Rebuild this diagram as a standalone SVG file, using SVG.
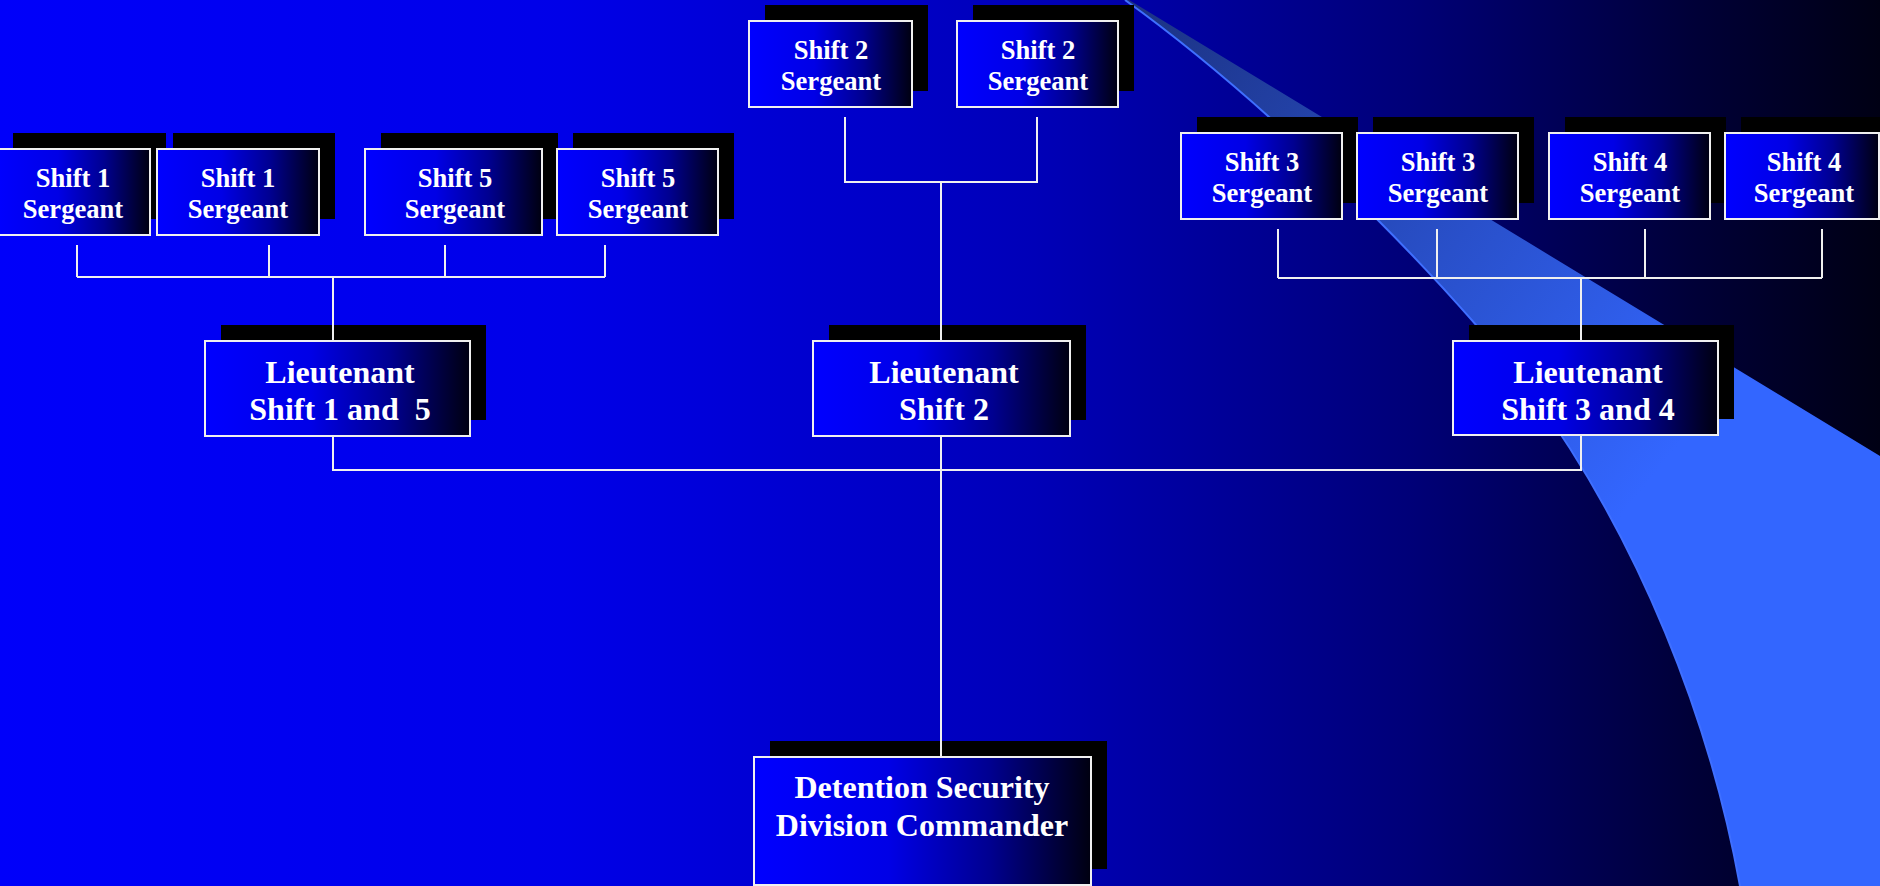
<svg xmlns="http://www.w3.org/2000/svg" width="1880" height="886" viewBox="0 0 1880 886">
<defs>
<linearGradient id="bg" x1="0" y1="0" x2="1" y2="0">
<stop offset="0" stop-color="#0000fa"/>
<stop offset="0.3" stop-color="#0000e8"/>
<stop offset="0.55" stop-color="#0000b8"/>
<stop offset="0.75" stop-color="#000078"/>
<stop offset="0.9" stop-color="#000038"/>
<stop offset="1" stop-color="#000014"/>
</linearGradient>
<linearGradient id="band" gradientUnits="userSpaceOnUse" x1="1150" y1="0" x2="1690" y2="430">
<stop offset="0" stop-color="#1c3385"/>
<stop offset="1" stop-color="#3366ff"/>
</linearGradient>
<linearGradient id="box" x1="0" y1="0" x2="1" y2="0">
<stop offset="0" stop-color="#0000ff"/>
<stop offset="0.4" stop-color="#0000e6"/>
<stop offset="0.7" stop-color="#000090"/>
<stop offset="1" stop-color="#000010"/>
</linearGradient>
<style>
.sh{fill:#000}
.bx{fill:url(#box);stroke:#f0f0f0;stroke-width:2}
.t{fill:#fff;font-family:"Liberation Serif","Times New Roman",serif;font-weight:bold;text-anchor:middle;white-space:pre}
.s{font-size:26.6px}
.l{font-size:32px}
.c{stroke:#f0f0f0;stroke-width:2;fill:none}
</style>
</defs>
<rect x="0" y="0" width="1880" height="886" fill="url(#bg)"/>
<path d="M1125,0 C1250,90 1420,250 1530,390 C1640,540 1710,720 1740,886 L1880,886 L1880,456 L1129,0 Z" fill="url(#band)"/>
<path d="M1125,0 C1250,90 1420,250 1530,390 C1640,540 1710,720 1740,886" fill="none" stroke="#3f6fff" stroke-width="2"/>

<g id="s1a"><rect class="sh" x="13" y="133" width="153" height="86"/><rect class="bx" x="-3" y="149" width="153" height="86"/><text class="t s" x="73" y="187">Shift 1</text><text class="t s" x="73" y="218">Sergeant</text></g>
<g id="s1b"><rect class="sh" x="173" y="133" width="162" height="86"/><rect class="bx" x="157" y="149" width="162" height="86"/><text class="t s" x="238" y="187">Shift 1</text><text class="t s" x="238" y="218">Sergeant</text></g>
<g id="s5a"><rect class="sh" x="381" y="133" width="177" height="86"/><rect class="bx" x="365" y="149" width="177" height="86"/><text class="t s" x="455" y="187">Shift 5</text><text class="t s" x="455" y="218">Sergeant</text></g>
<g id="s5b"><rect class="sh" x="573" y="133" width="161" height="86"/><rect class="bx" x="557" y="149" width="161" height="86"/><text class="t s" x="638" y="187">Shift 5</text><text class="t s" x="638" y="218">Sergeant</text></g>
<g id="s2a"><rect class="sh" x="765" y="5" width="163" height="86"/><rect class="bx" x="749" y="21" width="163" height="86"/><text class="t s" x="831" y="59">Shift 2</text><text class="t s" x="831" y="90">Sergeant</text></g>
<g id="s2b"><rect class="sh" x="973" y="5" width="161" height="86"/><rect class="bx" x="957" y="21" width="161" height="86"/><text class="t s" x="1038" y="59">Shift 2</text><text class="t s" x="1038" y="90">Sergeant</text></g>
<g id="s3a"><rect class="sh" x="1197" y="117" width="161" height="86"/><rect class="bx" x="1181" y="133" width="161" height="86"/><text class="t s" x="1262" y="171">Shift 3</text><text class="t s" x="1262" y="202">Sergeant</text></g>
<g id="s3b"><rect class="sh" x="1373" y="117" width="161" height="86"/><rect class="bx" x="1357" y="133" width="161" height="86"/><text class="t s" x="1438" y="171">Shift 3</text><text class="t s" x="1438" y="202">Sergeant</text></g>
<g id="s4a"><rect class="sh" x="1565" y="117" width="161" height="86"/><rect class="bx" x="1549" y="133" width="161" height="86"/><text class="t s" x="1630" y="171">Shift 4</text><text class="t s" x="1630" y="202">Sergeant</text></g>
<g id="s4b"><rect class="sh" x="1741" y="117" width="161" height="86"/><rect class="bx" x="1725" y="133" width="154" height="86"/><text class="t s" x="1804" y="171">Shift 4</text><text class="t s" x="1804" y="202">Sergeant</text></g>

<g id="lt15"><rect class="sh" x="221" y="325" width="265" height="95"/><rect class="bx" x="205" y="341" width="265" height="95"/><text class="t l" x="340" y="383">Lieutenant</text><text class="t l" x="340" y="420">Shift 1 and  5</text></g>
<g id="lt2"><rect class="sh" x="829" y="325" width="257" height="95"/><rect class="bx" x="813" y="341" width="257" height="95"/><text class="t l" x="944" y="383">Lieutenant</text><text class="t l" x="944" y="420">Shift 2</text></g>
<g id="lt34"><rect class="sh" x="1469" y="325" width="265" height="94"/><rect class="bx" x="1453" y="341" width="265" height="94"/><text class="t l" x="1588" y="383">Lieutenant</text><text class="t l" x="1588" y="420">Shift 3 and 4</text></g>
<g id="cmd"><rect class="sh" x="770" y="741" width="337" height="128"/><rect class="bx" x="754" y="757" width="337" height="128"/><text class="t l" x="922" y="798">Detention Security</text><text class="t l" x="922" y="836">Division Commander</text></g>

<g id="connectors">
<path class="c" d="M77,245 V277 M269,245 V277 M445,245 V277 M605,245 V277 M77,277 H605 M333,277 V341"/>
<path class="c" d="M845,117 V182 H1037 V117 M941,182 V341"/>
<path class="c" d="M1278,229 V278 M1437,229 V278 M1645,229 V278 M1822,229 V278 M1278,278 H1822 M1581,278 V341"/>
<path class="c" d="M333,436 V470 H1581 V435 M941,436 V757"/>
</g>
</svg>
